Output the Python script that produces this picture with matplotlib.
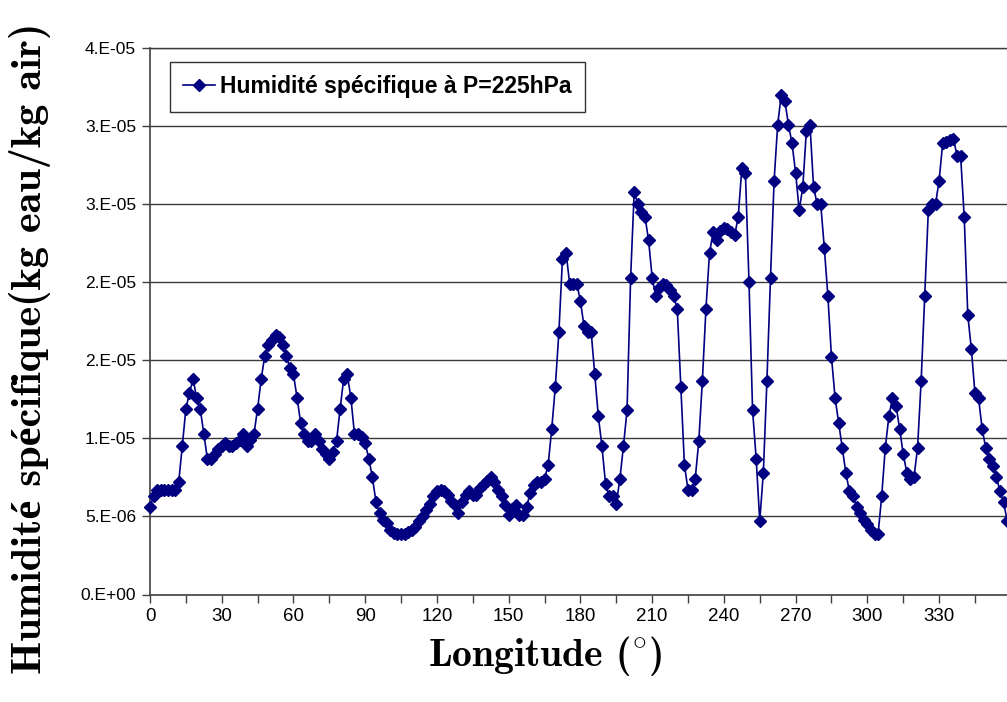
import matplotlib
matplotlib.use('Agg')

import matplotlib.pyplot as plt
import matplotlib.ticker as ticker

plt.rcParams["mathtext.fontset"] = "cm"

# longitude grid: 1.5 deg steps, 240 points (0 .. 358.5)
step = 1.5
humidity_e6 = [
    5.6, 6.3, 6.7, 6.7, 6.7, 6.7, 6.7, 6.7, 7.2, 9.5,
    11.9, 12.9, 13.8, 12.6, 11.9, 10.3, 8.7, 8.7, 9.0, 9.3,
    9.5, 9.7, 9.5, 9.5, 9.7, 9.9, 10.3, 9.5, 9.9, 10.3,
    11.9, 13.8, 15.3, 16.0, 16.3, 16.6, 16.5, 16.0, 15.3, 14.5,
    14.1, 12.6, 11.0, 10.3, 9.8, 9.8, 10.3, 9.8, 9.3, 9.0,
    8.7, 9.1, 9.8, 11.9, 13.8, 14.1, 12.6, 10.3, 10.3, 10.1,
    9.7, 8.7, 7.5, 5.95, 5.2, 4.8, 4.6, 4.1, 3.95, 3.9,
    3.9, 3.9, 4.0, 4.1, 4.3, 4.7, 5.0, 5.4, 5.8, 6.3,
    6.6, 6.7, 6.65, 6.4, 6.0, 5.7, 5.2, 5.9, 6.4, 6.6,
    6.4, 6.4, 6.8, 7.1, 7.3, 7.55, 7.2, 6.7, 6.3, 5.7,
    5.1, 5.5, 5.7, 5.1, 5.1, 5.6, 6.5, 7.0, 7.2, 7.2,
    7.4, 8.3, 10.6, 13.3, 16.8, 21.5, 21.9, 19.9, 19.9, 19.9,
    18.8, 17.2, 16.8, 16.8, 14.1, 11.4, 9.5, 7.1, 6.3, 6.3,
    5.8, 7.4, 9.5, 11.8, 20.3, 25.8, 25.0, 24.5, 24.2, 22.7,
    20.3, 19.1, 19.6, 19.9, 19.8, 19.5, 19.1, 18.3, 13.3, 8.3,
    6.7, 6.7, 7.4, 9.8, 13.7, 18.3, 21.9, 23.2, 22.7, 23.3,
    23.5, 23.4, 23.2, 23.0, 24.2, 27.3, 27.0, 20.0, 11.8, 8.7,
    4.7, 7.8, 13.7, 20.3, 26.5, 30.1, 32.0, 31.6, 30.1, 28.9,
    27.0, 24.6, 26.1, 29.7, 30.1, 26.1, 25.0, 25.0, 22.2, 19.1,
    15.2, 12.6, 11.0, 9.4, 7.8, 6.6, 6.3, 5.6, 5.2, 4.8,
    4.5, 4.1, 3.9, 3.9, 6.3, 9.4, 11.4, 12.6, 12.1, 10.6,
    9.0, 7.8, 7.4, 7.5, 9.4, 13.7, 19.1, 24.6, 25.0, 25.0,
    26.5, 28.9, 29.0, 29.1, 29.2, 28.1, 28.1, 24.2, 17.9, 15.7,
    12.9, 12.6, 10.6, 9.4, 8.7, 8.2, 7.5, 6.6, 5.9, 4.7,
]
longitude = [i * step for i in range(len(humidity_e6))]
humidity = [v * 1e-6 for v in humidity_e6]

y_ticks = [0, 5e-6, 1e-5, 1.5e-5, 2e-5, 2.5e-5, 3e-5, 3.5e-5]
y_tick_labels = ["0.E+00", "5.E-06", "1.E-05", "2.E-05", "2.E-05", "3.E-05", "3.E-05", "4.E-05"]
x_major = list(range(0, 360, 30))
x_minor = list(range(15, 360, 30))

series_label = "Humidité spécifique à P=225hPa"
serif_bold = ["cmb10", "Liberation Serif"]

W, H = 1007, 702
fig = plt.figure(figsize=(W / 100, H / 100), dpi=100)
ax = fig.add_axes([150 / W, (H - 594.5) / H, (W - 150) / W, (594.5 - 48) / H])

ax.plot(longitude, humidity, color="#000080", linewidth=1.2, marker="D",
        markersize=6, markerfacecolor="#000080", markeredgecolor="#000080",
        clip_on=False, zorder=5, label=series_label)

ax.set_xlim(0, 358.4)
ax.set_ylim(0, 3.5e-5)

ax.set_yticks(y_ticks)
ax.set_yticklabels(y_tick_labels, fontsize=12.5, family="Liberation Sans")
ax.set_xticks(x_major)
ax.set_xticklabels([str(v) for v in x_major], fontsize=13.5, family="Liberation Sans")
ax.xaxis.set_minor_locator(ticker.FixedLocator(x_minor))
ax.tick_params(axis="both", which="both", direction="out", length=6, width=1,
               color="#404040", pad=4)

ax.yaxis.grid(True, color="#3a3a3a", linewidth=1)
ax.set_axisbelow(True)
for side in ("left", "bottom"):
    ax.spines[side].set_color("#404040")
    ax.spines[side].set_linewidth(1.2)
ax.spines["top"].set_color("#3a3a3a")
ax.spines["top"].set_linewidth(1)
ax.spines["right"].set_visible(False)

fig.text(30 / W, 1 - 348 / H, "Humidité spécifique(kg eau/kg air)", rotation=90,
         ha="center", va="center", fontsize=30.5, family=serif_bold, fontweight="bold")
fig.text(545 / W, 1 - 656 / H, r"Longitude ($^{\circ}$)", ha="center", va="center",
         fontsize=28.5, family=serif_bold, fontweight="bold")

leg = ax.legend(loc="upper left", bbox_to_anchor=(20 / 857, 1 - 14 / 546.5),
                frameon=True, fancybox=False, shadow=False, borderpad=0.58,
                borderaxespad=0, handlelength=1.4, handletextpad=0.2,
                prop={"family": "Liberation Sans", "weight": "bold", "size": 16.5})
leg.get_frame().set_edgecolor("black")
leg.get_frame().set_linewidth(1)

fig.savefig("out.png", dpi=100)
plt.close("all")
